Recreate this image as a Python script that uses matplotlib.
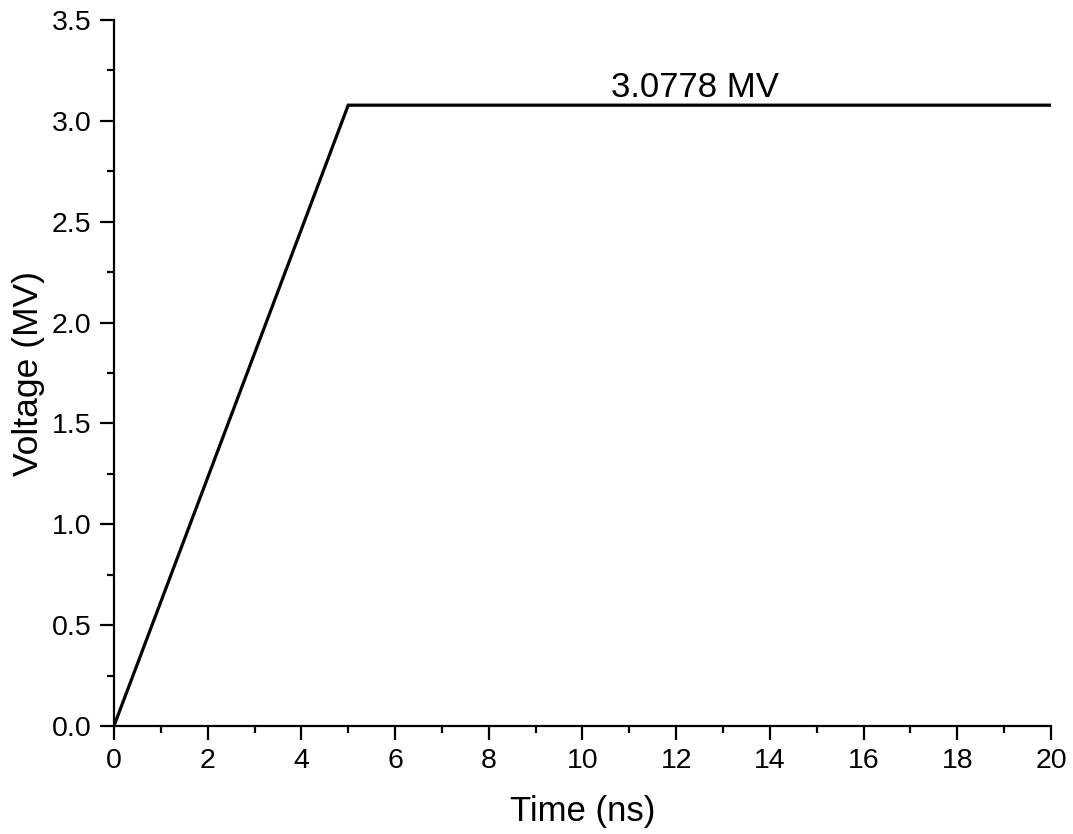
import matplotlib
matplotlib.use('Agg')
import matplotlib.pyplot as plt
from matplotlib.ticker import MultipleLocator

plt.rcParams['font.family'] = ['Liberation Sans', 'DejaVu Sans']

# pulse: linear rise to peak, then flat
time_ns = [0, 5, 20]
voltage_mv = [0, 3.0778, 3.0778]
peak_label = '3.0778 MV'

fig = plt.figure(figsize=(10.73, 8.34), dpi=100)
ax = fig.add_axes([0.1062, 0.1295, 0.8733, 0.8465])

ax.plot(time_ns, voltage_mv, color='black', lw=2.3, solid_joinstyle='miter')
ax.text(12.4, 3.0778 + 0.04, peak_label, ha='center', va='baseline', fontsize=25)

ax.set_xlim(0, 20)
ax.set_ylim(0, 3.5)
ax.xaxis.set_major_locator(MultipleLocator(2))
ax.xaxis.set_minor_locator(MultipleLocator(1))
ax.yaxis.set_major_locator(MultipleLocator(0.5))
ax.yaxis.set_minor_locator(MultipleLocator(0.25))
ax.yaxis.set_major_formatter(plt.FormatStrFormatter('%.1f'))

for s in ['top', 'right']:
    ax.spines[s].set_visible(False)
for s in ['left', 'bottom']:
    ax.spines[s].set_linewidth(1.6)

ax.tick_params(which='major', direction='out', length=10, width=1.6, labelsize=20.5, pad=6)
ax.tick_params(which='minor', direction='out', length=5, width=1.6)

ax.set_xlabel('Time (ns)', fontsize=25, labelpad=15)
ax.set_ylabel('Voltage (MV)', fontsize=25.5, labelpad=5)

fig.savefig('out.png', dpi=100)
